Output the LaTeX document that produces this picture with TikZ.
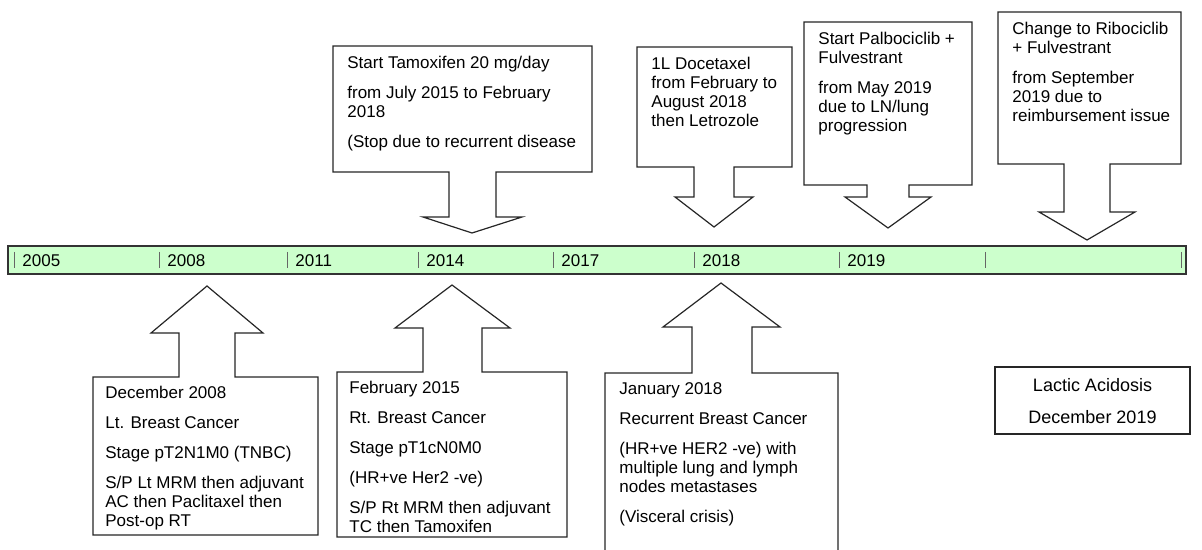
\documentclass[tikz,border=0pt]{standalone}
\usepackage{fontspec}
\setmainfont{Liberation Sans}
\definecolor{barGreen}{RGB}{204,255,204}
\begin{document}
\begin{tikzpicture}[x=0.5pt,y=-0.5pt,
                    arrowbox/.style={draw=black!85, fill=white, line width=0.6pt},
                    txt/.style={anchor=north west, align=left, inner sep=0pt,
                                font=\fontsize{8.5}{9.5}\selectfont},
                    year/.style={anchor=west, inner sep=0pt, font=\fontsize{8.5}{9.5}\selectfont},
                    tickmark/.style={draw=black!60, line width=0.4pt}]
                \clip (0,0) rectangle (1202,550);
                % time line
                \draw[fill=barGreen, draw=black!80, line width=0.7pt] (8,246) rectangle (1186,274);
                \foreach \x in {14,159,287,418,553,694,839,985,1181}
                    \draw[tickmark] (\x,252) -- (\x,268);
                \foreach \x/\yr in {14/2005,159/2008,287/2011,418/2014,553/2017,694/2018,839/2019}
                    \node[year] (y\yr) at (\x+8,260.5) {\yr};
                % treatments (pointing down)
                \draw[arrowbox] (333,46) -- (592,46) -- (592,172) -- (496,172) -- (496,217) -- (522,217)
                    -- (472,233) -- (423,217) -- (449,217) -- (449,172) -- (333,172) -- cycle;
                \node[txt] (tamox) at (347,56) {Start Tamoxifen 20 mg/day\\[5.5pt]
                    from July 2015 to February\\2018\\[5.5pt](Stop due to recurrent disease};
                \draw[arrowbox] (637,47) -- (792,47) -- (792,167) -- (734,167) -- (734,197) -- (753,197)
                    -- (714,227) -- (675,197) -- (694,197) -- (694,167) -- (637,167) -- cycle;
                \node[txt] (docet) at (651,57) {1L Docetaxel\\from February to\\August 2018\\then Letrozole};
                \draw[arrowbox] (804,22) -- (972,22) -- (972,185) -- (909,185) -- (909,197) -- (931,197)
                    -- (888,228) -- (845,197) -- (867,197) -- (867,185) -- (804,185) -- cycle;
                \node[txt] (palbo) at (818,32) {Start Palbociclib +\\Fulvestrant\\[5.5pt]
                    from May 2019\\due to LN/lung\\progression};
                \draw[arrowbox] (998,12) -- (1181,12) -- (1181,164) -- (1110,164) -- (1110,212) -- (1135,212)
                    -- (1087,240) -- (1039,212) -- (1064,212) -- (1064,164) -- (998,164) -- cycle;
                \node[txt] (ribo) at (1012,22) {Change to Ribociclib\\+ Fulvestrant\\[5.5pt]
                    from September\\2019 due to\\reimbursement issue};
                % diagnoses (pointing up)
                \draw[arrowbox] (93,377) -- (179,377) -- (179,333) -- (151,333) -- (207,286) -- (263,333)
                    -- (235,333) -- (235,377) -- (318,377) -- (318,535) -- (93,535) -- cycle;
                \node[txt] (dx2008) at (105,386) {December 2008\\[5.5pt]Lt. Breast Cancer\\[5.5pt]
                    Stage pT2N1M0 (TNBC)\\[5.5pt]S/P Lt MRM then adjuvant\\AC then Paclitaxel then\\Post-op RT};
                \draw[arrowbox] (337,372) -- (423,372) -- (423,328) -- (395,328) -- (452,285) -- (510,328)
                    -- (482,328) -- (482,372) -- (567,372) -- (567,537) -- (337,537) -- cycle;
                \node[txt] (dx2015) at (349,381) {February 2015\\[5.5pt]Rt. Breast Cancer\\[5.5pt]
                    Stage pT1cN0M0\\[5.5pt](HR+ve Her2 -ve)\\[5.5pt]S/P Rt MRM then adjuvant\\TC then Tamoxifen};
                \draw[arrowbox] (605,373) -- (692,373) -- (692,327) -- (663,327) -- (721,283) -- (780,327)
                    -- (752,327) -- (752,373) -- (838,373) -- (838,560) -- (605,560) -- cycle;
                \node[txt] (rec2018) at (619,382) {January 2018\\[5.5pt]Recurrent Breast Cancer\\[5.5pt]
                    (HR+ve HER2 -ve) with\\multiple lung and lymph\\nodes metastases\\[5.5pt](Visceral crisis)};
                % event
                \draw[arrowbox] (995,367) rectangle (1190,434);
                \node[align=center, inner sep=0pt, font=\fontsize{9}{9.5}\selectfont] (lactic) at (1092.5,401)
                    {Lactic Acidosis\\[6.5pt]December 2019};
\end{tikzpicture}
\end{document}
